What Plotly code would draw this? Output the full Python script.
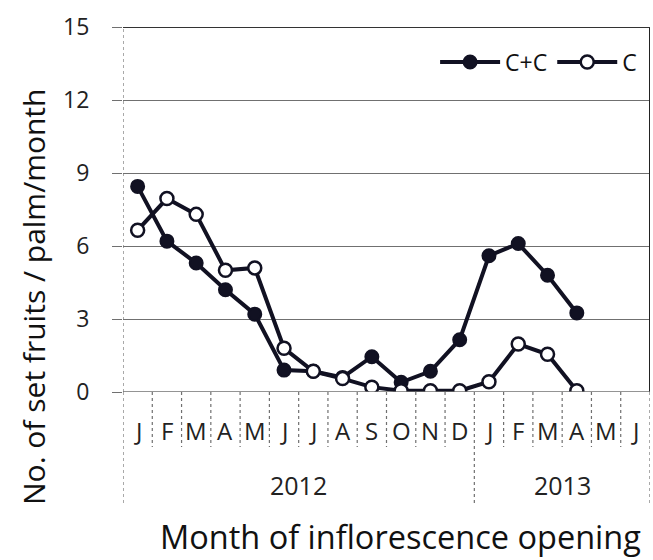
import plotly.graph_objects as go

months = ["J", "F", "M", "A", "M", "J", "J", "A", "S", "O", "N", "D",
          "J", "F", "M", "A", "M", "J"]
years = ["2012", "2013"]
year_months = [12, 6]
cc_values = [8.45, 6.2, 5.3, 4.2, 3.2, 0.9, 0.85, 0.6, 1.45, 0.4, 0.85, 2.15,
             5.6, 6.1, 4.8, 3.25]
c_values = [6.65, 7.95, 7.3, 5.0, 5.1, 1.8, 0.85, 0.55, 0.2, 0.05, 0.05, 0.05,
            0.42, 1.97, 1.55, 0.05]
y_ticks = [0, 3, 6, 9, 12, 15]

INK = "#111122"
GRID = "#707070"
FONT = "Open Sans"

x_cc = [i + 0.5 for i in range(len(cc_values))]
x_c = [i + 0.5 for i in range(len(c_values))]

fig = go.Figure()
fig.add_trace(go.Scatter(
    x=x_cc, y=cc_values, name="C+C", mode="lines+markers",
    line=dict(color=INK, width=4),
    marker=dict(symbol="circle", size=13, color=INK, line=dict(color=INK, width=2)),
))
fig.add_trace(go.Scatter(
    x=x_c, y=c_values, name="C", mode="lines+markers",
    line=dict(color=INK, width=4),
    marker=dict(symbol="circle", size=13, color="white", line=dict(color=INK, width=2.5)),
))

n = len(months)
plot_h = 365.0
month_sep = -55 / plot_h
year_sep = -111 / plot_h

shapes = []
boundaries = [0]
for m in year_months:
    boundaries.append(boundaries[-1] + m)
for k in range(n + 1):
    y1 = year_sep if k in boundaries else month_sep
    shapes.append(dict(type="line", xref="x", yref="paper", x0=k, x1=k, y0=0, y1=y1,
                       line=dict(color=GRID, width=1.2, dash="dot")))
# left axis (dashed)
shapes.append(dict(type="line", xref="x", yref="paper", x0=0, x1=0, y0=0, y1=1,
                   line=dict(color=GRID, width=1.2, dash="dot")))
# right border
shapes.append(dict(type="line", xref="x", yref="paper", x0=n, x1=n, y0=0, y1=1,
                   line=dict(color="#222222", width=2)))
# top border
shapes.append(dict(type="line", xref="x", yref="y", x0=0, x1=n, y0=15, y1=15,
                   line=dict(color="#333333", width=2)))
# bottom line
shapes.append(dict(type="line", xref="x", yref="y", x0=0, x1=n, y0=0, y1=0,
                   line=dict(color=GRID, width=1.5)))

annotations = []
for i, mth in enumerate(months):
    annotations.append(dict(x=i + 0.5, y=-38 / plot_h, xref="x", yref="paper",
                            text=mth, showarrow=False, yanchor="middle",
                            font=dict(family=FONT, size=24, color="#222222")))
start = 0
for yr, m in zip(years, year_months):
    annotations.append(dict(x=start + m / 2, y=-93 / plot_h, xref="x", yref="paper",
                            text=yr, showarrow=False, yanchor="middle",
                            font=dict(family=FONT, size=25, color="#222222")))
    start += m

annotations.append(dict(x=(400 - 123) / 527, y=-144 / plot_h, xref="paper", yref="paper",
                        text="Month of inflorescence opening", showarrow=False,
                        yanchor="middle", xanchor="center",
                        font=dict(family=FONT, size=32.5, color="#111111")))
annotations.append(dict(x=(33 - 123) / 527, y=(392 - 297) / plot_h, xref="paper", yref="paper",
                        text="No. of set fruits / palm/month", showarrow=False,
                        textangle=-90, yanchor="middle", xanchor="center",
                        font=dict(family=FONT, size=30, color="#111111")))

fig.update_layout(
    width=653, height=560,
    margin=dict(l=123, r=3, t=27, b=168),
    paper_bgcolor="white", plot_bgcolor="white",
    showlegend=True,
    legend=dict(orientation="h", x=0.985, xanchor="right", y=(392 - 62) / plot_h,
                yanchor="middle", font=dict(family=FONT, size=23, color="#111111"),
                bgcolor="rgba(0,0,0,0)", itemwidth=60),
    shapes=shapes,
    annotations=annotations,
    font=dict(family=FONT),
)
fig.update_xaxes(range=[0, n], showgrid=False, zeroline=False, showticklabels=False,
                 ticks="", showline=False)
fig.update_yaxes(range=[0, 15], tickvals=y_ticks, showgrid=True, gridcolor=GRID,
                 gridwidth=1.2, zeroline=False, showline=False, ticks="outside",
                 ticklen=10, tickcolor=GRID, tickwidth=1.2, ticklabelstandoff=18,
                 tickfont=dict(family=FONT, size=23, color="#222222"))

fig.write_html("out.html", config={"displayModeBar": False},
               post_script="document.body.style.margin='0';")
